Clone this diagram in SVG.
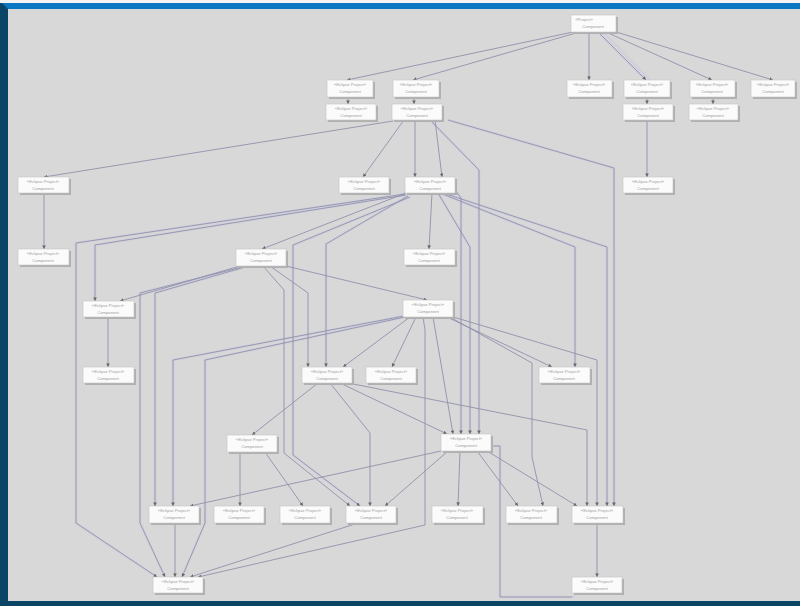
<svg xmlns="http://www.w3.org/2000/svg" width="800" height="606" viewBox="0 0 800 606">
<style>
.bg{fill:#d8d8d8}
.e{fill:none;stroke:#9191ab;stroke-width:0.9;marker-end:url(#ah)}
.h{fill:none;stroke:#cacadf;stroke-width:2.6;opacity:.5}
.n rect.s{fill:#b0b0b0}
.n rect.b{fill:#fbfbfb;stroke:#c4c4c4;stroke-width:.6}
.n text{font-family:"Liberation Sans",Arial,sans-serif;font-size:4.2px;fill:#a0a0a0;text-anchor:middle}
</style>
<defs>
<marker id="ah" viewBox="0 0 6 6" refX="6" refY="3" markerWidth="3.6" markerHeight="3.6" orient="auto" markerUnits="userSpaceOnUse">
<path d="M0,0 L6,3 L0,6 z" fill="#666"/>
</marker>
</defs>
<rect class="bg" x="0" y="0" width="800" height="606"/>
<rect x="0" y="0" width="800" height="3" fill="#f4f4f4"/>
<rect x="0" y="3" width="800" height="6" fill="#0a78c2"/>
<polygon points="0,3 2,3 8,9 8,601 0,606" fill="#0b4566"/>
<rect x="0" y="601" width="800" height="5" fill="#0b4566"/>

<g id="connectors">
<g id="halo">
<polyline class="h" points="598,32 646,80"/>
<polyline class="h" points="603,32 650,80"/>
<polyline class="h" points="405,194 76,243 76,523 157,577"/>
<polyline class="h" points="406,195 95,245 95,301"/>
<polyline class="h" points="408,196 326,244 326,367"/>
<polyline class="h" points="410,197 293,245 293,455 360,506"/>
<polyline class="h" points="404,316 173,360 173,506"/>
<polyline class="h" points="405,317 205,360 205,523 182,577"/>
<polyline class="h" points="242,267 140,293 140,523 165,577"/>
<polyline class="h" points="245,267 155,293 155,506"/>
<polyline class="h" points="440,193 575,247 575,367"/>
<polyline class="h" points="443,193 607,247 607,506"/>
<polyline class="h" points="455,190 461,198 461,434"/>
<polyline class="h" points="438,193 470,247 470,434"/>
<polyline class="h" points="430,120 479,170 479,434"/>
<polyline class="h" points="448,120 614,168 614,506"/>
<polyline class="h" points="491,446 500,446 500,597 575,597"/>
</g>
<polyline class="e" points="573,32 347,80"/>
<polyline class="e" points="576,33 413,80"/>
<polyline class="e" points="589,32 589,80"/>
<polyline class="e" points="598,32 646,80"/>
<polyline class="e" points="606,32 712,80"/>
<polyline class="e" points="613,31 773,80"/>
<polyline class="e" points="348,97 348,104"/>
<polyline class="e" points="414,97 414,104"/>
<polyline class="e" points="647,97 647,104"/>
<polyline class="e" points="713,97 713,104"/>
<polyline class="e" points="647,120 647,177"/>
<polyline class="e" points="393,121 44,177"/>
<polyline class="e" points="404,120 363,177"/>
<polyline class="e" points="415,120 415,177"/>
<polyline class="e" points="435,120 442,177"/>
<polyline class="e" points="430,120 479,170 479,434"/>
<polyline class="e" points="448,120 614,168 614,506"/>
<polyline class="e" points="44,193 44,249"/>
<polyline class="e" points="406,193 262,249"/>
<polyline class="e" points="432,193 429,249"/>
<polyline class="e" points="405,194 76,243 76,523 157,577"/>
<polyline class="e" points="406,195 95,245 95,301"/>
<polyline class="e" points="408,196 326,244 326,367"/>
<polyline class="e" points="410,197 293,245 293,455 360,506"/>
<polyline class="e" points="440,193 575,247 575,367"/>
<polyline class="e" points="443,193 607,247 607,506"/>
<polyline class="e" points="455,190 461,198 461,434"/>
<polyline class="e" points="438,193 470,247 470,434"/>
<polyline class="e" points="240,266 120,301"/>
<polyline class="e" points="245,267 155,293 155,506"/>
<polyline class="e" points="242,267 140,293 140,523 165,577"/>
<polyline class="e" points="270,266 308,293 308,367"/>
<polyline class="e" points="263,266 284,290 284,453 350,506"/>
<polyline class="e" points="286,266 427,300"/>
<polyline class="e" points="108,317 108,367"/>
<polyline class="e" points="404,316 173,360 173,506"/>
<polyline class="e" points="405,317 205,360 205,523 182,577"/>
<polyline class="e" points="410,317 343,367"/>
<polyline class="e" points="416,317 392,367"/>
<polyline class="e" points="423,317 425,330 425,525 198,577"/>
<polyline class="e" points="433,317 453,434"/>
<polyline class="e" points="447,317 552,367"/>
<polyline class="e" points="448,316 532,363 532,457 543,506"/>
<polyline class="e" points="450,316 597,360 597,506"/>
<polyline class="e" points="318,383 252,435"/>
<polyline class="e" points="330,383 370,433 370,506"/>
<polyline class="e" points="340,383 447,434"/>
<polyline class="e" points="348,383 587,430 587,506"/>
<polyline class="e" points="240,452 240,506"/>
<polyline class="e" points="265,452 303,506"/>
<polyline class="e" points="441,451 190,506"/>
<polyline class="e" points="448,451 385,506"/>
<polyline class="e" points="460,451 458,506"/>
<polyline class="e" points="477,451 518,506"/>
<polyline class="e" points="487,451 577,506"/>
<polyline class="e" points="491,446 500,446 500,597 572,597" style="marker-end:none"/>
<polyline class="e" points="175,523 175,577"/>
<polyline class="e" points="358,523 190,577"/>
<polyline class="e" points="597,523 597,577"/>
</g>

<g id="n1" class="n"><rect class="s" x="573" y="17" width="45" height="17"/><rect class="b" x="571" y="15" width="45" height="17"/><text x="584" y="21">«Project»</text><text x="593" y="28">Component</text></g>
<g id="n2" class="n"><rect class="s" x="329" y="82" width="46" height="17"/><rect class="b" x="327" y="80" width="46" height="17"/><text x="350" y="86">«Eclipse Project»</text><text x="350" y="93">Component</text></g>
<g id="n3" class="n"><rect class="s" x="395" y="82" width="46" height="17"/><rect class="b" x="393" y="80" width="46" height="17"/><text x="416" y="86">«Eclipse Project»</text><text x="416" y="93">Component</text></g>
<g id="n4" class="n"><rect class="s" x="569" y="82" width="45" height="17"/><rect class="b" x="567" y="80" width="45" height="17"/><text x="589" y="86">«Eclipse Project»</text><text x="589" y="93">Component</text></g>
<g id="n5" class="n"><rect class="s" x="626" y="82" width="46" height="17"/><rect class="b" x="624" y="80" width="46" height="17"/><text x="647" y="86">«Eclipse Project»</text><text x="647" y="93">Component</text></g>
<g id="n6" class="n"><rect class="s" x="692" y="82" width="45" height="17"/><rect class="b" x="690" y="80" width="45" height="17"/><text x="712" y="86">«Eclipse Project»</text><text x="712" y="93">Component</text></g>
<g id="n7" class="n"><rect class="s" x="753" y="82" width="44" height="17"/><rect class="b" x="751" y="80" width="44" height="17"/><text x="773" y="86">«Eclipse Project»</text><text x="773" y="93">Component</text></g>
<g id="n8" class="n"><rect class="s" x="328" y="106" width="50" height="16"/><rect class="b" x="326" y="104" width="50" height="16"/><text x="351" y="110">«Eclipse Project»</text><text x="351" y="117">Component</text></g>
<g id="n9" class="n"><rect class="s" x="394" y="106" width="50" height="16"/><rect class="b" x="392" y="104" width="50" height="16"/><text x="417" y="110">«Eclipse Project»</text><text x="417" y="117">Component</text></g>
<g id="n10" class="n"><rect class="s" x="625" y="106" width="50" height="16"/><rect class="b" x="623" y="104" width="50" height="16"/><text x="648" y="110">«Eclipse Project»</text><text x="648" y="117">Component</text></g>
<g id="n11" class="n"><rect class="s" x="691" y="106" width="49" height="16"/><rect class="b" x="689" y="104" width="49" height="16"/><text x="713" y="110">«Eclipse Project»</text><text x="713" y="117">Component</text></g>
<g id="n12" class="n"><rect class="s" x="20" y="179" width="51" height="16"/><rect class="b" x="18" y="177" width="51" height="16"/><text x="43" y="183">«Eclipse Project»</text><text x="43" y="190">Component</text></g>
<g id="n13" class="n"><rect class="s" x="341" y="179" width="50" height="16"/><rect class="b" x="339" y="177" width="50" height="16"/><text x="364" y="183">«Eclipse Project»</text><text x="364" y="190">Component</text></g>
<g id="n14" class="n"><rect class="s" x="407" y="179" width="50" height="16"/><rect class="b" x="405" y="177" width="50" height="16"/><text x="430" y="183">«Eclipse Project»</text><text x="430" y="190">Component</text></g>
<g id="n15" class="n"><rect class="s" x="625" y="179" width="50" height="16"/><rect class="b" x="623" y="177" width="50" height="16"/><text x="648" y="183">«Eclipse Project»</text><text x="648" y="190">Component</text></g>
<g id="n16" class="n"><rect class="s" x="20" y="251" width="51" height="16"/><rect class="b" x="18" y="249" width="51" height="16"/><text x="43" y="255">«Eclipse Project»</text><text x="43" y="262">Component</text></g>
<g id="n17" class="n"><rect class="s" x="238" y="251" width="50" height="17"/><rect class="b" x="236" y="249" width="50" height="17"/><text x="261" y="255">«Eclipse Project»</text><text x="261" y="262">Component</text></g>
<g id="n18" class="n"><rect class="s" x="406" y="251" width="51" height="16"/><rect class="b" x="404" y="249" width="51" height="16"/><text x="429" y="255">«Eclipse Project»</text><text x="429" y="262">Component</text></g>
<g id="n19" class="n"><rect class="s" x="85" y="303" width="51" height="16"/><rect class="b" x="83" y="301" width="51" height="16"/><text x="108" y="307">«Eclipse Project»</text><text x="108" y="314">Component</text></g>
<g id="n20" class="n"><rect class="s" x="405" y="302" width="50" height="17"/><rect class="b" x="403" y="300" width="50" height="17"/><text x="428" y="306">«Eclipse Project»</text><text x="428" y="313">Component</text></g>
<g id="n21" class="n"><rect class="s" x="85" y="369" width="51" height="16"/><rect class="b" x="83" y="367" width="51" height="16"/><text x="108" y="373">«Eclipse Project»</text><text x="108" y="380">Component</text></g>
<g id="n22" class="n"><rect class="s" x="304" y="369" width="50" height="16"/><rect class="b" x="302" y="367" width="50" height="16"/><text x="327" y="373">«Eclipse Project»</text><text x="327" y="380">Component</text></g>
<g id="n23" class="n"><rect class="s" x="368" y="369" width="50" height="16"/><rect class="b" x="366" y="367" width="50" height="16"/><text x="391" y="373">«Eclipse Project»</text><text x="391" y="380">Component</text></g>
<g id="n24" class="n"><rect class="s" x="541" y="369" width="51" height="16"/><rect class="b" x="539" y="367" width="51" height="16"/><text x="564" y="373">«Eclipse Project»</text><text x="564" y="380">Component</text></g>
<g id="n25" class="n"><rect class="s" x="229" y="437" width="50" height="17"/><rect class="b" x="227" y="435" width="50" height="17"/><text x="252" y="441">«Eclipse Project»</text><text x="252" y="448">Component</text></g>
<g id="n26" class="n"><rect class="s" x="443" y="436" width="50" height="17"/><rect class="b" x="441" y="434" width="50" height="17"/><text x="466" y="440">«Eclipse Project»</text><text x="466" y="447">Component</text></g>
<g id="n27" class="n"><rect class="s" x="151" y="508" width="50" height="17"/><rect class="b" x="149" y="506" width="50" height="17"/><text x="174" y="512">«Eclipse Project»</text><text x="174" y="519">Component</text></g>
<g id="n28" class="n"><rect class="s" x="216" y="508" width="50" height="17"/><rect class="b" x="214" y="506" width="50" height="17"/><text x="239" y="512">«Eclipse Project»</text><text x="239" y="519">Component</text></g>
<g id="n29" class="n"><rect class="s" x="282" y="508" width="50" height="17"/><rect class="b" x="280" y="506" width="50" height="17"/><text x="305" y="512">«Eclipse Project»</text><text x="305" y="519">Component</text></g>
<g id="n30" class="n"><rect class="s" x="348" y="508" width="50" height="17"/><rect class="b" x="346" y="506" width="50" height="17"/><text x="371" y="512">«Eclipse Project»</text><text x="371" y="519">Component</text></g>
<g id="n31" class="n"><rect class="s" x="434" y="508" width="51" height="17"/><rect class="b" x="432" y="506" width="51" height="17"/><text x="457" y="512">«Eclipse Project»</text><text x="457" y="519">Component</text></g>
<g id="n32" class="n"><rect class="s" x="508" y="508" width="51" height="17"/><rect class="b" x="506" y="506" width="51" height="17"/><text x="531" y="512">«Eclipse Project»</text><text x="531" y="519">Component</text></g>
<g id="n33" class="n"><rect class="s" x="574" y="508" width="51" height="17"/><rect class="b" x="572" y="506" width="51" height="17"/><text x="597" y="512">«Eclipse Project»</text><text x="597" y="519">Component</text></g>
<g id="n34" class="n"><rect class="s" x="155" y="579" width="50" height="16"/><rect class="b" x="153" y="577" width="50" height="16"/><text x="178" y="583">«Eclipse Project»</text><text x="178" y="590">Component</text></g>
<g id="n35" class="n"><rect class="s" x="574" y="579" width="50" height="16"/><rect class="b" x="572" y="577" width="50" height="16"/><text x="597" y="583">«Eclipse Project»</text><text x="597" y="590">Component</text></g>
</svg>
